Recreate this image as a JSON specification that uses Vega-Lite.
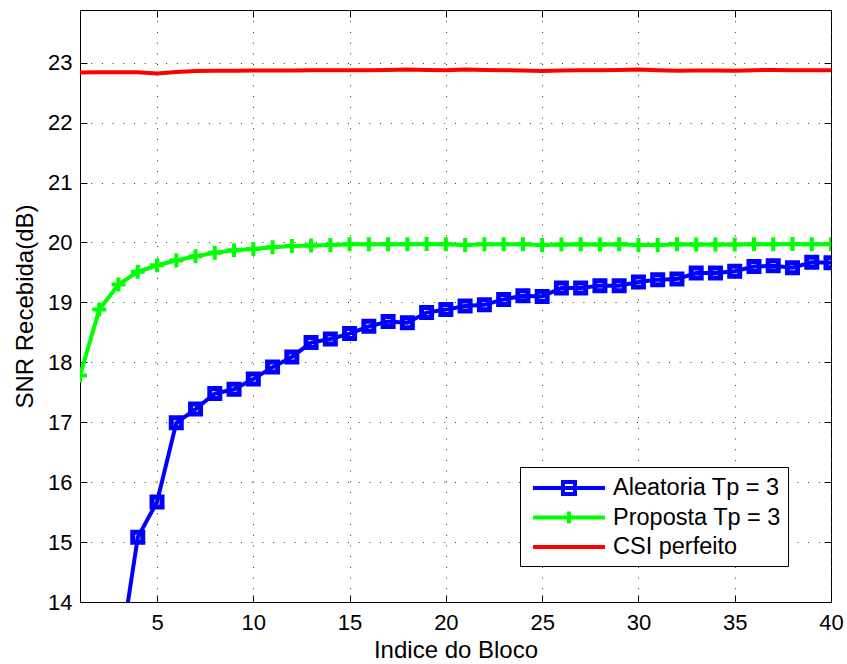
{
  "$schema": "https://vega.github.io/schema/vega-lite/v6.json",
  "width": 751,
  "height": 592,
  "autosize": {"type": "none"},
  "padding": {"left": 80, "top": 10, "right": 16, "bottom": 62},
  "background": "white",
  "config": {
    "font": "Liberation Sans",
    "view": {"stroke": "black", "strokeWidth": 1},
    "axis": {
      "labelFont": "Liberation Sans", "labelFontSize": 22, "labelColor": "black",
      "titleFont": "Liberation Sans", "titleFontSize": 24, "titleFontWeight": "normal", "titleColor": "black",
      "domainColor": "black", "domainWidth": 1, "tickColor": "black", "tickWidth": 1,
      "gridColor": "#333333", "gridDash": [1, 9.7], "gridWidth": 1, "gridOpacity": 1
    }
  },
  "data": {"values": [
    {"bloco":1,"serie":"Aleatoria Tp = 3","snr":10.5},{"bloco":2,"serie":"Aleatoria Tp = 3","snr":11.8},{"bloco":3,"serie":"Aleatoria Tp = 3","snr":12.96},{"bloco":4,"serie":"Aleatoria Tp = 3","snr":15.08},{"bloco":5,"serie":"Aleatoria Tp = 3","snr":15.67},{"bloco":6,"serie":"Aleatoria Tp = 3","snr":16.99},{"bloco":7,"serie":"Aleatoria Tp = 3","snr":17.22},{"bloco":8,"serie":"Aleatoria Tp = 3","snr":17.48},{"bloco":9,"serie":"Aleatoria Tp = 3","snr":17.55},{"bloco":10,"serie":"Aleatoria Tp = 3","snr":17.72},
    {"bloco":11,"serie":"Aleatoria Tp = 3","snr":17.92},{"bloco":12,"serie":"Aleatoria Tp = 3","snr":18.09},{"bloco":13,"serie":"Aleatoria Tp = 3","snr":18.33},{"bloco":14,"serie":"Aleatoria Tp = 3","snr":18.39},{"bloco":15,"serie":"Aleatoria Tp = 3","snr":18.48},{"bloco":16,"serie":"Aleatoria Tp = 3","snr":18.6},{"bloco":17,"serie":"Aleatoria Tp = 3","snr":18.68},{"bloco":18,"serie":"Aleatoria Tp = 3","snr":18.66},{"bloco":19,"serie":"Aleatoria Tp = 3","snr":18.83},{"bloco":20,"serie":"Aleatoria Tp = 3","snr":18.88},
    {"bloco":21,"serie":"Aleatoria Tp = 3","snr":18.94},{"bloco":22,"serie":"Aleatoria Tp = 3","snr":18.96},{"bloco":23,"serie":"Aleatoria Tp = 3","snr":19.05},{"bloco":24,"serie":"Aleatoria Tp = 3","snr":19.11},{"bloco":25,"serie":"Aleatoria Tp = 3","snr":19.1},{"bloco":26,"serie":"Aleatoria Tp = 3","snr":19.24},{"bloco":27,"serie":"Aleatoria Tp = 3","snr":19.24},{"bloco":28,"serie":"Aleatoria Tp = 3","snr":19.28},{"bloco":29,"serie":"Aleatoria Tp = 3","snr":19.28},{"bloco":30,"serie":"Aleatoria Tp = 3","snr":19.34},
    {"bloco":31,"serie":"Aleatoria Tp = 3","snr":19.38},{"bloco":32,"serie":"Aleatoria Tp = 3","snr":19.39},{"bloco":33,"serie":"Aleatoria Tp = 3","snr":19.49},{"bloco":34,"serie":"Aleatoria Tp = 3","snr":19.49},{"bloco":35,"serie":"Aleatoria Tp = 3","snr":19.52},{"bloco":36,"serie":"Aleatoria Tp = 3","snr":19.6},{"bloco":37,"serie":"Aleatoria Tp = 3","snr":19.61},{"bloco":38,"serie":"Aleatoria Tp = 3","snr":19.58},{"bloco":39,"serie":"Aleatoria Tp = 3","snr":19.67},{"bloco":40,"serie":"Aleatoria Tp = 3","snr":19.66},
    {"bloco":1,"serie":"Proposta Tp = 3","snr":17.78},{"bloco":2,"serie":"Proposta Tp = 3","snr":18.88},{"bloco":3,"serie":"Proposta Tp = 3","snr":19.3},{"bloco":4,"serie":"Proposta Tp = 3","snr":19.51},{"bloco":5,"serie":"Proposta Tp = 3","snr":19.62},{"bloco":6,"serie":"Proposta Tp = 3","snr":19.7},{"bloco":7,"serie":"Proposta Tp = 3","snr":19.77},{"bloco":8,"serie":"Proposta Tp = 3","snr":19.83},{"bloco":9,"serie":"Proposta Tp = 3","snr":19.87},{"bloco":10,"serie":"Proposta Tp = 3","snr":19.89},
    {"bloco":11,"serie":"Proposta Tp = 3","snr":19.92},{"bloco":12,"serie":"Proposta Tp = 3","snr":19.94},{"bloco":13,"serie":"Proposta Tp = 3","snr":19.95},{"bloco":14,"serie":"Proposta Tp = 3","snr":19.96},{"bloco":15,"serie":"Proposta Tp = 3","snr":19.97},{"bloco":16,"serie":"Proposta Tp = 3","snr":19.97},{"bloco":17,"serie":"Proposta Tp = 3","snr":19.97},{"bloco":18,"serie":"Proposta Tp = 3","snr":19.97},{"bloco":19,"serie":"Proposta Tp = 3","snr":19.975},{"bloco":20,"serie":"Proposta Tp = 3","snr":19.97},
    {"bloco":21,"serie":"Proposta Tp = 3","snr":19.96},{"bloco":22,"serie":"Proposta Tp = 3","snr":19.97},{"bloco":23,"serie":"Proposta Tp = 3","snr":19.97},{"bloco":24,"serie":"Proposta Tp = 3","snr":19.97},{"bloco":25,"serie":"Proposta Tp = 3","snr":19.96},{"bloco":26,"serie":"Proposta Tp = 3","snr":19.965},{"bloco":27,"serie":"Proposta Tp = 3","snr":19.97},{"bloco":28,"serie":"Proposta Tp = 3","snr":19.965},{"bloco":29,"serie":"Proposta Tp = 3","snr":19.97},{"bloco":30,"serie":"Proposta Tp = 3","snr":19.96},
    {"bloco":31,"serie":"Proposta Tp = 3","snr":19.96},{"bloco":32,"serie":"Proposta Tp = 3","snr":19.97},{"bloco":33,"serie":"Proposta Tp = 3","snr":19.965},{"bloco":34,"serie":"Proposta Tp = 3","snr":19.965},{"bloco":35,"serie":"Proposta Tp = 3","snr":19.965},{"bloco":36,"serie":"Proposta Tp = 3","snr":19.97},{"bloco":37,"serie":"Proposta Tp = 3","snr":19.97},{"bloco":38,"serie":"Proposta Tp = 3","snr":19.975},{"bloco":39,"serie":"Proposta Tp = 3","snr":19.97},{"bloco":40,"serie":"Proposta Tp = 3","snr":19.97},
    {"bloco":1,"serie":"CSI perfeito","snr":22.835},{"bloco":2,"serie":"CSI perfeito","snr":22.84},{"bloco":3,"serie":"CSI perfeito","snr":22.84},{"bloco":4,"serie":"CSI perfeito","snr":22.84},{"bloco":5,"serie":"CSI perfeito","snr":22.82},{"bloco":6,"serie":"CSI perfeito","snr":22.845},{"bloco":7,"serie":"CSI perfeito","snr":22.86},{"bloco":8,"serie":"CSI perfeito","snr":22.865},{"bloco":9,"serie":"CSI perfeito","snr":22.865},{"bloco":10,"serie":"CSI perfeito","snr":22.87},
    {"bloco":11,"serie":"CSI perfeito","snr":22.87},{"bloco":12,"serie":"CSI perfeito","snr":22.87},{"bloco":13,"serie":"CSI perfeito","snr":22.875},{"bloco":14,"serie":"CSI perfeito","snr":22.875},{"bloco":15,"serie":"CSI perfeito","snr":22.875},{"bloco":16,"serie":"CSI perfeito","snr":22.875},{"bloco":17,"serie":"CSI perfeito","snr":22.88},{"bloco":18,"serie":"CSI perfeito","snr":22.885},{"bloco":19,"serie":"CSI perfeito","snr":22.88},{"bloco":20,"serie":"CSI perfeito","snr":22.875},
    {"bloco":21,"serie":"CSI perfeito","snr":22.885},{"bloco":22,"serie":"CSI perfeito","snr":22.88},{"bloco":23,"serie":"CSI perfeito","snr":22.875},{"bloco":24,"serie":"CSI perfeito","snr":22.87},{"bloco":25,"serie":"CSI perfeito","snr":22.86},{"bloco":26,"serie":"CSI perfeito","snr":22.87},{"bloco":27,"serie":"CSI perfeito","snr":22.875},{"bloco":28,"serie":"CSI perfeito","snr":22.875},{"bloco":29,"serie":"CSI perfeito","snr":22.88},{"bloco":30,"serie":"CSI perfeito","snr":22.885},
    {"bloco":31,"serie":"CSI perfeito","snr":22.875},{"bloco":32,"serie":"CSI perfeito","snr":22.865},{"bloco":33,"serie":"CSI perfeito","snr":22.87},{"bloco":34,"serie":"CSI perfeito","snr":22.87},{"bloco":35,"serie":"CSI perfeito","snr":22.865},{"bloco":36,"serie":"CSI perfeito","snr":22.875},{"bloco":37,"serie":"CSI perfeito","snr":22.88},{"bloco":38,"serie":"CSI perfeito","snr":22.875},{"bloco":39,"serie":"CSI perfeito","snr":22.875},{"bloco":40,"serie":"CSI perfeito","snr":22.875}
  ]},
  "resolve": {"axis": {"x": "independent", "y": "independent"}},
  "layer": [
    {
      "mark": {"type": "line", "strokeWidth": 4, "clip": true},
      "encoding": {
        "x": {"field": "bloco", "type": "quantitative",
          "scale": {"domain": [1, 40], "nice": false, "zero": false},
          "axis": {"orient": "bottom", "values": [5,10,15,20,25,30,35,40], "title": "Indice do Bloco",
            "tickSize": -7, "labelPadding": 17, "titlePadding": 5, "grid": true, "labelFlush": false}},
        "y": {"field": "snr", "type": "quantitative",
          "scale": {"domain": [14, 23.88], "nice": false, "zero": false},
          "axis": {"orient": "left", "values": [14,15,16,17,18,19,20,21,22,23], "title": "SNR Recebida(dB)",
            "tickSize": -7, "labelPadding": 15, "titlePadding": 10, "grid": true, "labelFlush": false}},
        "color": {"field": "serie", "type": "nominal",
          "scale": {"domain": ["Aleatoria Tp = 3", "Proposta Tp = 3", "CSI perfeito"], "range": ["#0000ff", "#00ff00", "#ff0000"]},
          "legend": {
            "orient": "none", "legendX": 440, "legendY": 457, "title": null,
            "fillColor": "white", "strokeColor": "black", "padding": 7, "cornerRadius": 0,
            "symbolSize": 576, "symbolStrokeWidth": 4, "symbolType": "M-0.667,0H5.333",
            "labelFont": "Liberation Sans", "labelFontSize": 23.5, "labelColor": "black", "labelOffset": 58, "labelLimit": 400,
            "rowPadding": 1.5,
            "encode": {
              "legend": {"update": {"width": {"value": 271}}},
              "symbols": {"update": {"shape": {"signal": "datum.value == 'Aleatoria Tp = 3' ? 'M-0.667,0H5.333M1.833,-0.5H2.833V0.5H1.833Z' : datum.value == 'Proposta Tp = 3' ? 'M-0.667,0H5.333M2.333,-0.5V0.5' : 'M-0.667,0H5.333'"}}}}
          }
        }
      }
    },
    {
      "transform": [{"filter": "datum.serie == 'Aleatoria Tp = 3'"}],
      "mark": {"type": "point", "shape": "square", "size": 100, "filled": false, "strokeWidth": 5, "color": "#0000ff", "opacity": 1, "clip": true},
      "encoding": {
        "x": {"field": "bloco", "type": "quantitative",
          "axis": {"orient": "top", "values": [5,10,15,20,25,30,35,40], "labels": false, "title": null, "grid": false, "tickSize": -7, "domain": false}},
        "y": {"field": "snr", "type": "quantitative",
          "axis": {"orient": "right", "values": [14,15,16,17,18,19,20,21,22,23], "labels": false, "title": null, "grid": false, "tickSize": -7, "domain": false}}
      }
    },
    {
      "transform": [{"filter": "datum.serie == 'Proposta Tp = 3'"}],
      "mark": {"type": "point", "shape": "M-1,0H1M0,-1V1", "size": 196, "filled": false, "strokeWidth": 4, "color": "#00ff00", "opacity": 1, "clip": true},
      "encoding": {
        "x": {"field": "bloco", "type": "quantitative", "axis": null},
        "y": {"field": "snr", "type": "quantitative", "axis": null}
      }
    }
  ]
}
